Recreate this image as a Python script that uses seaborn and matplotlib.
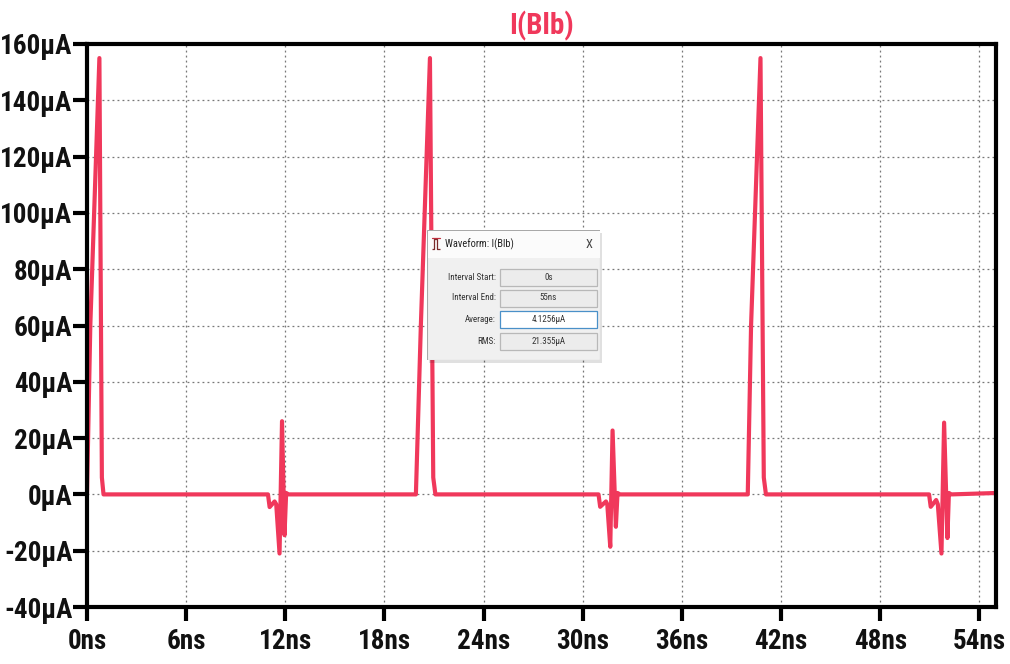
import numpy as np
import pandas as pd
import matplotlib
matplotlib.use("Agg")
import matplotlib.pyplot as plt
from matplotlib.patches import Rectangle
import seaborn as sns

# Transient current through Blb (time in ns, current in µA)
t_ns = [0.0, 0.2, 0.75, 0.9, 1.0,
        10.95, 11.05, 11.35, 11.45, 11.65, 11.8, 11.95, 12.05, 12.2,
        19.9, 20.2, 20.75, 20.95, 21.08,
        30.95, 31.05, 31.4, 31.48, 31.66, 31.8, 32.0, 32.1, 32.25,
        39.98, 40.18, 40.75, 40.95, 41.08,
        50.95, 51.05, 51.38, 51.48, 51.7, 51.86, 52.06, 52.15, 52.3,
        55.0]
i_ua = [0.0, 60.0, 155.0, 6.0, 0.0,
        0.0, -4.5, -2.5, -3.5, -21.0, 26.0, -14.5, 0.5, 0.0,
        0.0, 60.0, 155.0, 6.0, 0.0,
        0.0, -4.4, -2.5, -3.5, -18.6, 22.7, -11.5, 0.5, 0.0,
        0.0, 60.0, 155.0, 6.0, 0.0,
        0.0, -4.4, -2.0, -3.5, -21.0, 25.5, -15.5, 0.5, 0.0,
        0.5]

x_ticks = [0, 6, 12, 18, 24, 30, 36, 42, 48, 54]
x_labels = ["0ns", "6ns", "12ns", "18ns", "24ns", "30ns", "36ns", "42ns", "48ns", "54ns"]
y_ticks = [-40, -20, 0, 20, 40, 60, 80, 100, 120, 140, 160]
y_labels = ["-40µA", "-20µA", "0µA", "20µA", "40µA", "60µA", "80µA",
            "100µA", "120µA", "140µA", "160µA"]

# Measurement dialog contents
meas_names = ["Interval Start:", "Interval End:", "Average:", "RMS:"]
meas_values = ["0s", "55ns", "4.1256µA", "21.355µA"]

trace_color = "#f0385b"
fonts = ["Roboto Condensed", "DejaVu Sans"]

sns.set_theme(style="white")
plt.rcParams["font.family"] = fonts

fig = plt.figure(figsize=(10.10, 6.64), dpi=100)
ax = fig.add_axes([87 / 1010, 1 - 607 / 664, (996 - 87) / 1010, (607 - 44) / 664])

df = pd.DataFrame({"t": t_ns, "i": i_ua})
sns.lineplot(data=df, x="t", y="i", ax=ax, color=trace_color, linewidth=3.0,
             sort=False, estimator=None)

ax.set_xlim(0, 55)
ax.set_ylim(-40, 160)
ax.set_xticks(x_ticks)
ax.set_xticklabels(x_labels)
ax.set_yticks(y_ticks)
ax.set_yticklabels(y_labels)
ax.set_xlabel("")
ax.set_ylabel("")

for lab in ax.get_xticklabels() + ax.get_yticklabels():
    lab.set_fontweight("bold")
    lab.set_fontsize(19.5)
    lab.set_color("#111111")

ax.tick_params(axis="both", direction="out", length=10, width=3, color="black",
               left=True, bottom=True)
ax.tick_params(axis="y", pad=0.5)
ax.tick_params(axis="x", pad=5)

for sp in ax.spines.values():
    sp.set_visible(True)
    sp.set_color("black")
    sp.set_linewidth(3)

ax.grid(True, which="major", linestyle=(0, (1.5, 2.5)), color="#777777", linewidth=0.9)
ax.set_axisbelow(True)

ax.set_title("I(Blb)", color=trace_color, fontweight="bold", fontsize=21, pad=7)

# Waveform measurement dialog
W, H = 1010, 664
def fx(px):
    return px / W
def fy(py):
    return 1 - py / H

dlg = fig.add_axes([fx(427), fy(360), fx(600) - fx(427), fy(230) - fy(360)])
dlg.set_xlim(427, 600)
dlg.set_ylim(360, 230)
dlg.axis("off")

# drop shadow behind the dialog
fig.patches.append(Rectangle((fx(429), fy(363)), fx(600) - fx(427), fy(230) - fy(360),
                             transform=fig.transFigure, facecolor="#000000", alpha=0.12,
                             edgecolor="none", zorder=5))
dlg.set_zorder(6)
dlg.add_patch(Rectangle((427, 230), 173, 130, facecolor="#f0f0f0",
                        edgecolor="#a8a8a8", linewidth=0.8))
dlg.add_patch(Rectangle((427.5, 230.5), 172, 27, facecolor="#fbfbfb", edgecolor="none"))

# small waveform icon in the title bar
dlg.plot([432, 434, 434, 437, 437, 440], [249, 249, 239, 239, 249, 249],
         color="#7a2a2a", linewidth=0.9, solid_capstyle="butt")
dlg.plot([432, 440], [238, 238], color="#c03040", linewidth=0.9)
dlg.text(445, 244, "Waveform: I(Blb)", fontsize=7.5, color="#222222",
         va="center", ha="left")
dlg.text(589, 244, "X", fontsize=9, color="#444444", va="center", ha="center")

row_y = [277, 298, 319, 341]
for k, (name, val, yc) in enumerate(zip(meas_names, meas_values, row_y)):
    dlg.text(496, yc, name, fontsize=6.5, color="#333333", va="center", ha="right")
    edge = "#4a90c8" if k == 2 else "#b8b8b8"
    fill = "#ffffff" if k == 2 else "#ececec"
    dlg.add_patch(Rectangle((500, yc - 8.5), 97, 17, facecolor=fill,
                            edgecolor=edge, linewidth=0.9))
    dlg.text(548.5, yc, val, fontsize=6.5, color="#333333", va="center", ha="center")

fig.savefig("out.png", dpi=100)
